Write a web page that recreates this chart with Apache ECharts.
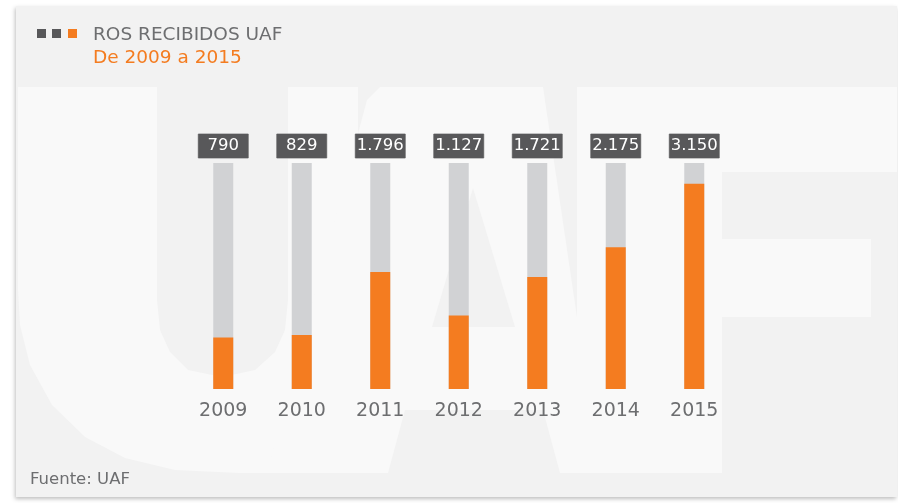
<!DOCTYPE html>
<html>
<head>
<meta charset="utf-8">
<script src="https://cdn.jsdelivr.net/npm/echarts@6/dist/echarts.min.js"></script>
<style>
  html, body { margin: 0; padding: 0; background: #fff; }
  #chart { width: 898px; height: 503px; }
</style>
</head>
<body>
<div id="chart"></div>
<script>
// datos
var years = ['2009', '2010', '2011', '2012', '2013', '2014', '2015'];
var ros = [790, 829, 1796, 1127, 1721, 2175, 3150];
var fondo = [3470, 3470, 3470, 3470, 3470, 3470, 3470];
var escalaMax = 3470;

var gris = '#6d6e70';
var naranja = '#f47c20';
var marca = '#f9f9f9';
var tarjeta = '#f2f2f2';
var fuente = '"DejaVu Sans", sans-serif';

function miles(v) {
  return String(v).replace(/\B(?=(\d{3})+(?!\d))/g, '.');
}

var myChart = echarts.init(document.getElementById('chart'));

// contorno aproximado de la U de la marca de agua
var letraU = [[18,87],[157,87],[157,300],[160,330],[170,352],[188,370],[222,377],[255,370],[275,352],[285,330],
  [288,300],[288,87],[358,87],[358,473],[240,473],[175,470],[125,458],[85,437],[52,405],[30,365],[20,325],[18,290]];

var option = {
  backgroundColor: '#fff',
  animation: false,
  graphic: [
    // tarjeta de fondo
    { type: 'rect', z: 0, shape: { x: 16, y: 6, width: 881, height: 491 },
      style: { fill: tarjeta, shadowBlur: 4, shadowOffsetX: -1, shadowOffsetY: 2, shadowColor: 'rgba(0,0,0,0.25)' } },
    // marca de agua UAF
    { type: 'polygon', z: 1, shape: { points: letraU }, style: { fill: marca } },
    { type: 'polygon', z: 1, shape: { points: [[267,473],[367,100],[380,87],[543,87],[600,473],[560,473],[543,410],[405,410],[388,473]] },
      style: { fill: marca } },
    { type: 'polygon', z: 1, z2: 5, shape: { points: [[432,327],[515,327],[473,188]] },
      style: { fill: tarjeta } },
    { type: 'rect', z: 1, shape: { x: 577, y: 87, width: 145, height: 386 }, style: { fill: marca } },
    { type: 'rect', z: 1, shape: { x: 577, y: 87, width: 320, height: 85 }, style: { fill: marca } },
    { type: 'rect', z: 1, shape: { x: 722, y: 239, width: 149, height: 78 }, style: { fill: marca } },
    // cuadritos del titulo
    { type: 'rect', z: 10, shape: { x: 37, y: 29, width: 9, height: 9 }, style: { fill: '#58585a' } },
    { type: 'rect', z: 10, shape: { x: 52, y: 29, width: 9, height: 9 }, style: { fill: '#58585a' } },
    { type: 'rect', z: 10, shape: { x: 68, y: 29, width: 9, height: 9 }, style: { fill: naranja } },
    // textos
    { type: 'text', z: 10, x: 93, y: 35,
      style: { text: 'ROS RECIBIDOS UAF', fill: gris, font: '18.5px ' + fuente, textVerticalAlign: 'middle', verticalAlign: 'middle' } },
    { type: 'text', z: 10, x: 93, y: 58,
      style: { text: 'De 2009 a 2015', fill: naranja, font: '18.5px ' + fuente, textVerticalAlign: 'middle', verticalAlign: 'middle' } },
    { type: 'text', z: 10, x: 30, y: 480,
      style: { text: 'Fuente: UAF', fill: gris, font: '16.5px ' + fuente, textVerticalAlign: 'middle', verticalAlign: 'middle' } }
  ],
  grid: { left: 184, right: 164.5, top: 163, bottom: 114 },
  xAxis: {
    type: 'category',
    data: years,
    z: 5,
    axisLine: { show: false },
    axisTick: { show: false },
    axisLabel: { color: gris, fontSize: 19, fontFamily: fuente, margin: 13 }
  },
  yAxis: {
    type: 'value',
    min: 0,
    max: escalaMax,
    show: false,
    splitLine: { show: false }
  },
  series: [
    {
      type: 'bar',
      data: fondo,
      barWidth: 20,
      barGap: '-100%',
      silent: true,
      z: 3,
      itemStyle: { color: '#d1d2d4' },
      label: {
        show: true,
        position: 'top',
        distance: 5,
        formatter: function (p) { return miles(ros[p.dataIndex]); },
        color: '#fff',
        fontSize: 16.5,
        fontFamily: fuente,
        backgroundColor: '#58585a',
        borderColor: '#8a8a8c',
        borderWidth: 0.5,
        width: 48,
        align: 'center',
        lineHeight: 18,
        padding: [3, 1, 3, 1]
      }
    },
    {
      type: 'bar',
      data: ros,
      barWidth: 20,
      barGap: '-100%',
      z: 4,
      itemStyle: { color: naranja }
    }
  ]
};

myChart.setOption(option);
</script>
</body>
</html>
